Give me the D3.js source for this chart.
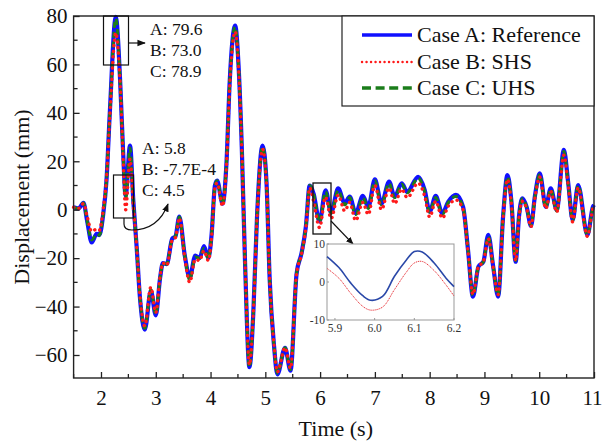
<!DOCTYPE html>
<html><head><meta charset="utf-8">
<script src="https://cdn.jsdelivr.net/npm/d3@7"></script>
<style>
html,body{margin:0;padding:0;background:#fff;}
svg{display:block;font-family:"Liberation Serif","Times New Roman",serif;}
</style></head>
<body><svg id="c" width="603" height="446"></svg>
<script>
// ---- data ----
const time = [1.50,1.59,1.68,1.75,1.83,1.92,1.97,2.04,2.10,2.16,2.27,2.35,2.40,2.45,2.53,2.59,2.65,2.71,2.80,2.91,3.00,3.08,3.13,3.20,3.30,3.36,3.43,3.53,3.62,3.72,3.80,3.88,3.96,4.02,4.08,4.12,4.22,4.29,4.35,4.45,4.51,4.57,4.63,4.71,4.78,4.85,4.95,5.02,5.08,5.16,5.22,5.36,5.46,5.57,5.66,5.74,5.81,5.88,5.99,6.10,6.20,6.33,6.45,6.54,6.65,6.78,6.88,7.00,7.12,7.26,7.36,7.49,7.59,7.79,7.91,8.00,8.11,8.23,8.34,8.48,8.61,8.70,8.79,8.89,8.98,9.07,9.16,9.25,9.34,9.42,9.49,9.57,9.63,9.69,9.77,9.85,9.92,10.01,10.12,10.21,10.32,10.45,10.53,10.61,10.71,10.88,10.98,11.00];
const caseA = [1.0,0.5,2.8,-5.0,-13.5,-10.0,-10.5,-2.0,12.0,39.6,79.6,53.0,26.0,5.8,26.5,3.7,-15.0,-36.0,-49.5,-33.5,-43.6,-28.0,-22.0,-22.5,-12.0,-11.0,-2.8,-19.0,-28.0,-19.0,-20.0,-15.0,-20.0,-10.0,10.0,12.0,2.5,19.0,53.0,76.0,60.0,26.0,-22.0,-65.0,-43.0,-2.0,26.5,12.0,-29.0,-56.5,-68.0,-57.0,-66.5,-26.5,-18.0,-7.0,10.0,6.7,-4.8,8.0,-1.2,8.8,2.6,5.4,-1.5,5.7,1.2,12.5,2.6,11.6,5.4,10.9,7.4,13.6,8.1,-0.8,5.7,-1.5,3.3,6.1,1.2,-16.6,-35.9,-23.5,-21.5,-10.4,-23.5,-35.9,-2.9,14.3,4.0,-21.5,-2.9,4.7,1.2,-6.7,5.4,15.0,1.2,8.8,-0.1,24.7,10.9,-4.3,10.2,-10.4,1.2,2.0];
const caseB = [1.0,0.5,2.5,-3.0,-9.0,-8.0,-8.5,0.0,13.0,38.0,73.0,52.0,24.0,-0.00077,21.0,2.0,-15.0,-35.0,-48.0,-32.0,-42.5,-27.5,-22.0,-23.0,-12.5,-11.5,-3.5,-20.0,-30.0,-20.5,-21.0,-17.0,-21.0,-11.0,9.0,11.0,1.5,18.0,51.0,73.5,59.0,25.0,-22.0,-64.0,-43.0,-2.5,25.0,11.0,-29.0,-56.0,-67.0,-57.0,-65.5,-26.5,-18.5,-7.5,9.0,3.6,-7.4,5.2,-3.7,6.0,-0.5,3.0,-4.5,3.0,-2.0,10.0,0.0,9.0,2.5,8.5,5.0,11.0,5.5,-3.0,3.5,-3.5,1.5,4.0,0.0,-17.0,-35.0,-23.5,-21.5,-12.0,-24.0,-35.0,-3.5,12.5,3.0,-21.0,-3.5,3.5,0.5,-7.0,4.5,13.5,0.5,7.5,-1.0,22.5,10.0,-5.0,9.0,-11.0,0.5,1.5];
const caseC = [1.0,0.5,2.8,-5.0,-12.5,-10.0,-10.5,-2.0,12.0,39.5,78.9,53.0,25.0,4.5,25.5,3.5,-15.0,-36.0,-49.0,-33.0,-43.0,-28.0,-22.0,-22.5,-12.0,-11.0,-3.0,-19.0,-29.0,-19.5,-20.0,-16.0,-20.0,-10.0,10.0,12.0,2.5,19.0,53.0,75.5,60.0,26.0,-22.0,-65.0,-43.0,-2.0,26.0,12.0,-29.0,-56.5,-67.5,-57.0,-66.0,-26.5,-18.0,-7.0,10.0,6.5,-5.0,7.5,-1.5,8.0,2.0,5.0,-2.0,5.0,0.5,12.0,2.0,11.0,5.0,10.5,7.0,13.0,7.5,-1.0,5.0,-2.0,3.0,5.5,1.0,-16.6,-35.5,-23.5,-21.5,-11.0,-23.5,-35.5,-3.0,13.5,4.0,-21.0,-3.0,4.5,1.0,-6.5,5.0,14.5,1.0,8.5,-0.5,24.0,10.5,-4.5,10.0,-10.5,1.0,2.0];
const seriesNames = ["Case A: Reference","Case B: SHS","Case C: UHS"];
const xTicks = [2,3,4,5,6,7,8,9,10,11];
const yTicks = [-60,-40,-20,0,20,40,60,80];
const peakNotes = ["A: 79.6","B: 73.0","C: 78.9"];
const troughNotes = ["A: 5.8","B: -7.7E-4","C: 4.5"];
// inset (zoom 5.88-6.2 s)
const insetTime = [5.88,5.91,5.94,5.97,5.99,6.02,6.05,6.08,6.10,6.12,6.15,6.18,6.20];
const insetA = [6.7,3.8,-0.3,-3.6,-4.8,-3.8,1.5,5.8,8.0,7.9,5.0,1.0,-1.2];
const insetB = [3.6,1.0,-3.0,-6.4,-7.4,-6.6,-2.0,2.6,5.0,5.4,3.0,-0.8,-3.7];
const insetXTicks = [5.9,6.0,6.1,6.2];
const insetYTicks = [-10,0,10];

// ---- layout ----
const svg = d3.select("#c");
const L=73.6, R=594, T=16, B=378;
const x = d3.scaleLinear().domain([1.5,11]).range([L,R]);
const y = d3.scaleLinear().domain([-69.5,80]).range([B,T]);
const FONT = 21;
const colA="#1010ff", colB="#ff1a1a", colC="#1b7d1b";

// series lines
const mk = vals => d3.line().x((d,i)=>x(time[i])).y(d=>y(d)).curve(d3.curveMonotoneX)(vals);
const g = svg.append("g");
g.append("path").attr("d",mk(caseA)).attr("fill","none").attr("stroke",colA).attr("stroke-width",4.2);
g.append("path").attr("d",mk(caseC)).attr("fill","none").attr("stroke",colC).attr("stroke-width",3).attr("stroke-dasharray","6,4");
g.append("path").attr("d",mk(caseB)).attr("fill","none").attr("stroke",colB).attr("stroke-width",3.4).attr("stroke-dasharray","0.1,5.5").attr("stroke-linecap","round");

// frame
svg.append("rect").attr("x",L).attr("y",T).attr("width",R-L).attr("height",B-T).attr("fill","none").attr("stroke","#222").attr("stroke-width",1.4);

// axes
const xAx = svg.append("g").attr("transform",`translate(0,${B})`)
  .call(d3.axisBottom(x).tickValues(xTicks).tickSize(-6).tickPadding(12).tickFormat(d3.format("d")));
const yAx = svg.append("g").attr("transform",`translate(${L},0)`)
  .call(d3.axisLeft(y).tickValues(yTicks).tickSize(-6).tickPadding(6).tickFormat(d3.format("d")));
[xAx,yAx].forEach(a=>{a.select(".domain").remove();a.selectAll("line").attr("stroke","#222").attr("stroke-width",1.3);
  a.selectAll("text").attr("font-family","Liberation Serif").attr("font-size",FONT).attr("fill","#111");});
// keep the last x label inside the page
xAx.selectAll(".tick").filter(d=>d===11).select("text").attr("dx",-2);
// minor ticks
const xMinor = d3.range(1.5,11.01,0.5).filter(v=>!xTicks.includes(v));
svg.append("g").selectAll("line").data(xMinor).join("line").attr("x1",d=>x(d)).attr("x2",d=>x(d)).attr("y1",B).attr("y2",B-4).attr("stroke","#222").attr("stroke-width",1.3);
const yMinor = d3.range(-60,81,10).filter(v=>!yTicks.includes(v));
svg.append("g").selectAll("line").data(yMinor).join("line").attr("y1",d=>y(d)).attr("y2",d=>y(d)).attr("x1",L).attr("x2",L+4).attr("stroke","#222").attr("stroke-width",1.3);

// axis titles
svg.append("text").attr("x",(L+R)/2+2).attr("y",436).attr("text-anchor","middle").attr("font-size",22).attr("fill","#111").text("Time (s)");
svg.append("text").attr("transform",`translate(29,${(T+B)/2}) rotate(-90)`).attr("text-anchor","middle").attr("font-size",22).attr("fill","#111").text("Displacement (mm)");

// legend
const lg = svg.append("g");
lg.append("rect").attr("x",342).attr("y",T).attr("width",R-342).attr("height",90).attr("fill","#fff").attr("stroke","#222").attr("stroke-width",1.2);
const styles=[{c:colA,w:3.5,da:null,cap:"butt"},{c:colB,w:2.4,da:"0.1,4.4",cap:"round"},{c:colC,w:3.5,da:"9,4.6",cap:"butt"}];
const rowsY=[35,62,88];
seriesNames.forEach((n,i)=>{
  const s=styles[i];
  const ln=lg.append("line").attr("x1",362).attr("x2",412).attr("y1",rowsY[i]).attr("y2",rowsY[i]).attr("stroke",s.c).attr("stroke-width",s.w).attr("stroke-linecap",s.cap);
  if(s.da) ln.attr("stroke-dasharray",s.da);
  lg.append("text").attr("x",417).attr("y",rowsY[i]+7).attr("font-size",22).attr("fill","#111").text(n);
});

// annotations
const ann = svg.append("g").attr("fill","#111");
const defs = svg.append("defs");
defs.append("marker").attr("id","ah").attr("viewBox","0 0 10 10").attr("refX",9).attr("refY",5).attr("markerWidth",7).attr("markerHeight",7).attr("orient","auto")
  .append("path").attr("d","M0,1 L10,5 L0,9 Z").attr("fill","#111");
ann.append("rect").attr("x",103.5).attr("y",T).attr("width",25).attr("height",49).attr("fill","none").attr("stroke","#111").attr("stroke-width",1.2);
ann.append("line").attr("x1",128.5).attr("y1",43).attr("x2",145).attr("y2",43).attr("stroke","#111").attr("stroke-width",1.2).attr("marker-end","url(#ah)");
peakNotes.forEach((t,i)=>ann.append("text").attr("x",150).attr("y",35+i*21).attr("font-size",17.5).text(t));
ann.append("rect").attr("x",113.5).attr("y",175).attr("width",20).attr("height",43).attr("fill","none").attr("stroke","#111").attr("stroke-width",1.2);
ann.append("path").attr("d","M124,218 L124,224 C124,228 126,230 132,230 C150,230 162,220 168,204").attr("fill","none").attr("stroke","#111").attr("stroke-width",1.2).attr("marker-end","url(#ah)");
troughNotes.forEach((t,i)=>ann.append("text").attr("x",142).attr("y",154+i*21).attr("font-size",17.5).text(t));
ann.append("rect").attr("x",313).attr("y",183).attr("width",18).attr("height",51).attr("fill","none").attr("stroke","#111").attr("stroke-width",1.3);
ann.append("line").attr("x1",331).attr("y1",221).attr("x2",353).attr("y2",244).attr("stroke","#111").attr("stroke-width",1.1).attr("marker-end","url(#ah)");

// inset
const ix = d3.scaleLinear().domain([5.88,6.2]).range([327,454]);
const iy = d3.scaleLinear().domain([-10,10]).range([320,244]);
const ins = svg.append("g");
ins.append("rect").attr("x",327).attr("y",244).attr("width",127).attr("height",76).attr("fill","#fff").attr("stroke","#999").attr("stroke-width",1);
const il = vals => d3.line().x((d,i)=>ix(insetTime[i])).y(d=>iy(d)).curve(d3.curveCatmullRom.alpha(0.5))(vals);
ins.append("path").attr("d",il(insetA)).attr("fill","none").attr("stroke","#2a48a8").attr("stroke-width",1.6);
ins.append("path").attr("d",il(insetB)).attr("fill","none").attr("stroke","#e8333a").attr("stroke-width",1).attr("stroke-dasharray","1.2,0.8");
insetXTicks.forEach(v=>{
  ins.append("line").attr("x1",ix(v)).attr("x2",ix(v)).attr("y1",320).attr("y2",318).attr("stroke","#999");
  ins.append("text").attr("x",ix(v)).attr("y",332).attr("text-anchor","middle").attr("font-size",11.5).attr("fill","#333").text(v.toFixed(1));
});
insetYTicks.forEach(v=>{
  ins.append("line").attr("x1",327).attr("x2",329).attr("y1",iy(v)).attr("y2",iy(v)).attr("stroke","#999");
  ins.append("text").attr("x",325).attr("y",iy(v)+4).attr("text-anchor","end").attr("font-size",11.5).attr("fill","#333").text(v);
});
</script></body></html>
